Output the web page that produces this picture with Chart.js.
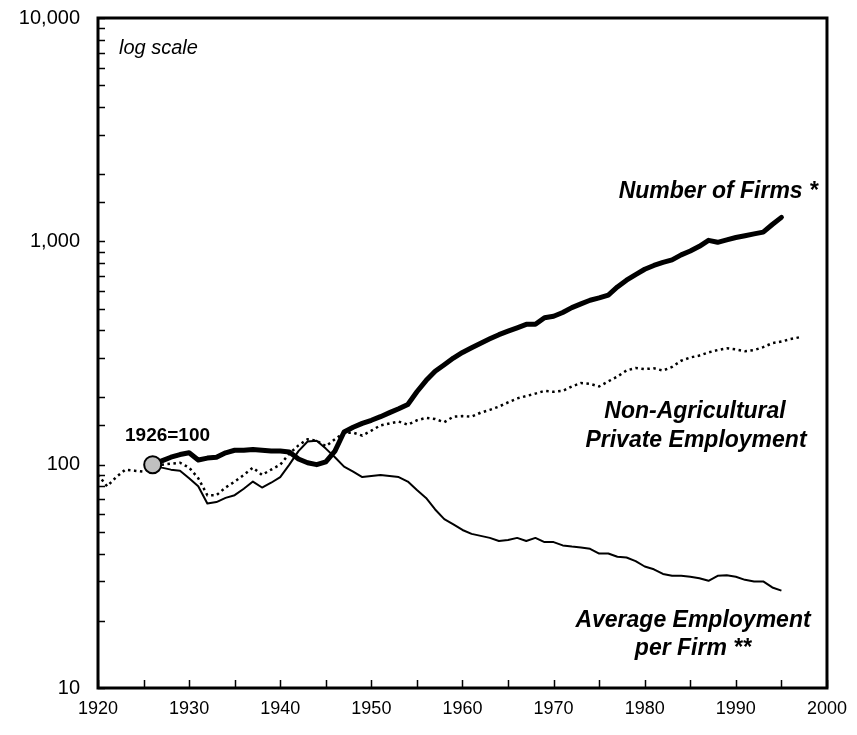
<!DOCTYPE html>
<html>
<head>
<meta charset="utf-8">
<script src="https://cdn.jsdelivr.net/npm/chart.js@4.4.1/dist/chart.umd.min.js"></script>
<style>
  html, body { margin: 0; padding: 0; background: #fff; }
  #wrap { width: 857px; height: 735px; }
</style>
</head>
<body>
<div id="wrap"><canvas id="chart" width="857" height="735"></canvas></div>
<script>
/* Firms, employment and firm size since 1926 (log scale, 1926=100) */

// --- Data (index values) ---

const years = [
    1920, 1921, 1922, 1923, 1924, 1925, 1926, 1927, 1928, 1929,
    1930, 1931, 1932, 1933, 1934, 1935, 1936, 1937, 1938, 1939,
    1940, 1941, 1942, 1943, 1944, 1945, 1946, 1947, 1948, 1949,
    1950, 1951, 1952, 1953, 1954, 1955, 1956, 1957, 1958, 1959,
    1960, 1961, 1962, 1963, 1964, 1965, 1966, 1967, 1968, 1969,
    1970, 1971, 1972, 1973, 1974, 1975, 1976, 1977, 1978, 1979,
    1980, 1981, 1982, 1983, 1984, 1985, 1986, 1987, 1988, 1989,
    1990, 1991, 1992, 1993, 1994, 1995, 1996, 1997
];

const numberOfFirms = [
    null, null, null, null, null, null, 100, 104, 108, 111,
    113, 105, 107, 108, 113, 116, 116, 117, 116, 115,
    115, 114, 106, 102, 100, 103, 115, 140, 147, 153,
    158, 164, 171, 178, 186, 212, 238, 262, 280, 300,
    318, 334, 350, 366, 382, 396, 410, 425, 425, 455,
    462, 480, 505, 525, 545, 558, 575, 625, 670, 710,
    750, 780, 805, 826, 870, 905, 950, 1010, 990, 1015,
    1040, 1060, 1080, 1100, 1190, 1280, null, null
];

const privateEmployment = [
    90, 80, 88, 95, 94, 93, 100, 100, 101, 102,
    97, 87, 73, 73, 79, 84, 90, 97, 90, 95,
    100, 112, 122, 130, 128, 121, 130, 139, 139, 135,
    142, 150, 153, 156, 151, 158, 162, 160, 155, 164,
    165, 164, 171, 176, 182, 190, 198, 203, 208, 214,
    212, 214, 224, 232, 230, 224, 236, 248, 264, 271,
    268, 270, 264, 274, 292, 302, 308, 318, 326, 332,
    328, 322, 326, 336, 350, 356, 365, 372
];

const employmentPerFirm = [
    null, null, null, null, null, null, 100, 97, 95, 94,
    87, 80, 67, 68, 71, 73, 78, 84, 79, 83,
    88, 100, 115, 127, 128, 118, 108, 98, 93, 88,
    89, 90, 89, 88, 84, 77, 71, 63, 57, 54,
    51, 49, 48, 47, 45.5, 46, 47, 45.5, 47, 45,
    45, 43.5, 43, 42.6, 42, 40, 40, 38.7, 38.4, 37,
    35, 34, 32.4, 31.8, 31.8, 31.5, 31, 30.2, 31.8, 32,
    31.5, 30.5, 30, 30, 28.2, 27.3, null, null
];

const baseYear = 1926;
const baseValue = 100;
const yLabelValues = [10, 100, 1000, 10000];

// --- Helpers ---

const FONT = 'Arial, "Liberation Sans", Helvetica, sans-serif';

function toPoints(values) {
    return years.map((yr, i) => ({ x: yr, y: values[i] }));
}

// Frame, inward tick marks and the text labels
const framePlugin = {
    id: 'frame',
    afterDraw(chart) {
        const { ctx, chartArea: a, scales: { x, y } } = chart;
        ctx.save();
        ctx.strokeStyle = '#000';

        // tick marks pointing into the plot
        ctx.lineWidth = 1.5;
        ctx.beginPath();
        x.ticks.forEach(t => {
            const px = Math.round(x.getPixelForValue(t.value)) + 0.5;
            ctx.moveTo(px, a.bottom);
            ctx.lineTo(px, a.bottom - 8);
        });
        y.ticks.forEach(t => {
            const py = Math.round(y.getPixelForValue(t.value)) + 0.5;
            ctx.moveTo(a.left, py);
            ctx.lineTo(a.left + 7, py);
        });
        ctx.stroke();

        ctx.lineWidth = 3;
        ctx.strokeRect(a.left, a.top, a.right - a.left, a.bottom - a.top);

        // texts
        ctx.fillStyle = '#000';
        ctx.textBaseline = 'alphabetic';

        ctx.font = 'italic 20px ' + FONT;
        ctx.textAlign = 'left';
        ctx.fillText('log scale', 119, 54);

        ctx.font = 'bold 19px ' + FONT;
        ctx.fillText('1926=100', 125, 441);

        ctx.font = 'bold italic 23px ' + FONT;
        ctx.textAlign = 'right';
        ctx.fillText('Number of Firms *', 818, 198);

        ctx.textAlign = 'center';
        ctx.fillText('Non-Agricultural', 695, 418);
        ctx.fillText('Private Employment', 696, 447);
        ctx.fillText('Average Employment', 693, 627);
        ctx.fillText('per Firm **', 693, 655);

        ctx.restore();
    }
};

// --- Chart ---

const ctx = document.getElementById('chart').getContext('2d');

new Chart(ctx, {
    type: 'line',
    data: {
        datasets: [
            {
                // 1926 base point marker
                data: [{ x: baseYear, y: baseValue }],
                showLine: false,
                pointRadius: 8.5,
                pointBackgroundColor: '#c0c0c0',
                pointBorderColor: '#000',
                pointBorderWidth: 2,
            },
            {
                data: toPoints(numberOfFirms),
                borderColor: '#000',
                borderWidth: 5,
                pointRadius: 0,
                tension: 0,
                borderJoinStyle: 'round',
                borderCapStyle: 'round',
            },
            {
                data: toPoints(employmentPerFirm),
                borderColor: '#000',
                borderWidth: 2,
                pointRadius: 0,
                tension: 0,
                borderJoinStyle: 'round',
            },
            {
                data: toPoints(privateEmployment),
                borderColor: '#000',
                borderWidth: 2.5,
                borderDash: [2.5, 3.5],
                pointRadius: 0,
                tension: 0,
            },
        ]
    },
    options: {
        responsive: false,
        animation: false,
        layout: { padding: { top: 18, right: 29, left: 0, bottom: 0 } },
        plugins: {
            legend: { display: false },
            tooltip: { enabled: false },
        },
        scales: {
            x: {
                type: 'linear',
                min: 1920,
                max: 2000,
                grid: { display: false, drawTicks: false },
                border: { display: false },
                ticks: {
                    stepSize: 5,
                    autoSkip: false,
                    maxRotation: 0,
                    padding: 10,
                    color: '#000',
                    font: { family: FONT, size: 18 },
                    callback: v => (v % 10 === 0 ? String(v) : ''),
                },
                afterFit: s => { s.height = 47; },
            },
            y: {
                type: 'logarithmic',
                min: 10,
                max: 10000,
                grid: { display: false, drawTicks: false },
                border: { display: false },
                ticks: {
                    autoSkip: false,
                    padding: 18,
                    color: '#000',
                    font: { family: FONT, size: 20 },
                    callback: v => (yLabelValues.includes(v) ? v.toLocaleString('en-US') : ''),
                },
                afterFit: s => {
                    s.width = 98;
                    s.paddingTop = 0;
                    s.paddingBottom = 0;
                },
            },
        }
    },
    plugins: [framePlugin]
});
</script>
</body>
</html>
